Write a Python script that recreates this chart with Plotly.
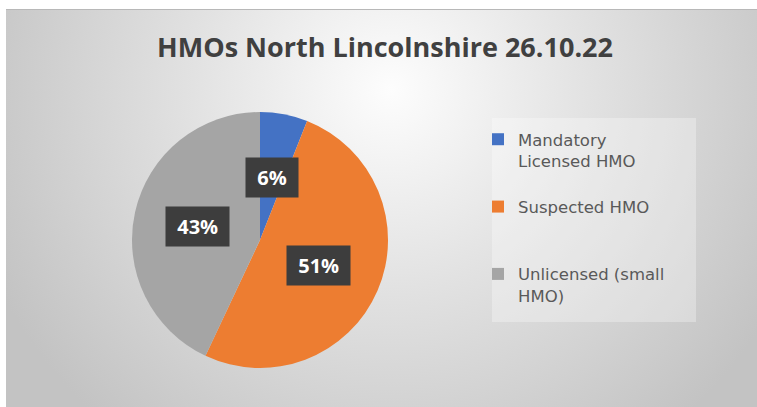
import math, base64
import plotly.graph_objects as go

# ---- data ----
title_text = "HMOs North Lincolnshire 26.10.22"
categories = ["Mandatory Licensed HMO", "Suspected HMO", "Unlicensed (small HMO)"]
legend_labels = ["Mandatory<br>Licensed HMO<br>\u00a0",
                 "Suspected HMO<br>\u00a0<br>\u00a0",
                 "Unlicensed (small<br>HMO)<br>\u00a0"]
values = [6, 51, 43]
colors = ["#4472C4", "#ED7D31", "#A5A5A5"]

W, H = 757, 407

# pie placement (pixels)
cx, cy, R = 260, 240, 128
dom_x = [(cx - R) / W, (cx + R) / W]
dom_y = [1 - (cy + R) / H, 1 - (cy - R) / H]

# background radial gradient as an svg image (oversized so it reaches the window edges)
BW, BH = 780, 420
svg = f'''<svg xmlns="http://www.w3.org/2000/svg" width="{BW}" height="{BH}" viewBox="0 0 {BW} {BH}" preserveAspectRatio="none">
<defs><radialGradient id="g" gradientUnits="userSpaceOnUse" cx="385" cy="80" r="440">
<stop offset="0" stop-color="#fdfdfd"/><stop offset="0.45" stop-color="#e2e2e2"/>
<stop offset="1" stop-color="#c3c3c3"/></radialGradient></defs>
<rect x="0" y="0" width="{BW}" height="{BH}" fill="url(#g)"/></svg>'''
src = "data:image/svg+xml;base64," + base64.b64encode(svg.encode()).decode()

fig = go.Figure()
fig.add_trace(go.Pie(
    labels=legend_labels,
    values=values,
    marker=dict(colors=colors, line=dict(width=0)),
    sort=False,
    direction="clockwise",
    rotation=0,
    textinfo="none",
    hoverinfo="label+percent",
    domain=dict(x=dom_x, y=dom_y),
))

# data labels with dark boxes at half radius on each slice's mid angle
total = sum(values)
cum = 0
annotations = []
for v in values:
    mid = (cum + v / 2) / total * 2 * math.pi
    cum += v
    px = cx + 0.5 * R * math.sin(mid)
    py = cy - 0.5 * R * math.cos(mid)
    annotations.append(dict(
        x=px / W, y=1 - py / H, xref="paper", yref="paper",
        text="\u00a0" + f"{round(v / total * 100)}%" + "\u00a0",
        showarrow=False,
        font=dict(family="Open Sans", size=20, color="white", weight="bold"),
        bgcolor="#3d3d3d", borderpad=6,
        xanchor="center", yanchor="middle",
    ))

fig.update_layout(
    width=W, height=H,
    margin=dict(l=0, r=0, t=0, b=0),
    paper_bgcolor="#c8c8c8",
    plot_bgcolor="rgba(0,0,0,0)",
    title=dict(text=title_text, x=385 / W, y=1 - 48 / H, xanchor="center", yanchor="middle",
               font=dict(family="Open Sans", size=27, color="#404040", weight="bold")),
    images=[dict(source=src, xref="paper", yref="paper", x=6 / W, y=1 - 9 / H,
                 sizex=BW / W, sizey=BH / H, xanchor="left", yanchor="top",
                 sizing="stretch", layer="below")],
    shapes=[
        # white frame strips (top and left) of the screenshot
        dict(type="rect", xref="paper", yref="paper", x0=-0.05, x1=1.05,
             y0=1 - 9 / H, y1=1.05, fillcolor="white", line=dict(width=0), layer="below"),
        dict(type="rect", xref="paper", yref="paper", x0=-0.05, x1=6 / W,
             y0=-0.05, y1=1.05, fillcolor="white", line=dict(width=0), layer="below"),
        dict(type="rect", xref="paper", yref="paper", x0=492 / W, x1=696 / W,
             y0=1 - 322 / H, y1=1 - 118 / H, fillcolor="rgba(255,255,255,0.3)",
             line=dict(width=0), layer="below"),
        dict(type="line", xref="paper", yref="paper", x0=6 / W, x1=1.05, y0=1 - 9.5 / H, y1=1 - 9.5 / H,
             line=dict(color="#b8b8b8", width=1), layer="below"),
    ],
    legend=dict(x=478 / W, y=1 - 122 / H, xanchor="left", yanchor="top",
                bgcolor="rgba(0,0,0,0)", valign="top",
                font=dict(family="DejaVu Sans", size=16.5, color="#595959")),
    annotations=annotations,
    showlegend=True,
)

fig.write_html("out.html", config={"displayModeBar": False},
               post_script="document.body.style.margin='0';document.body.style.overflow='hidden';document.body.style.background='#c8c8c8';")
